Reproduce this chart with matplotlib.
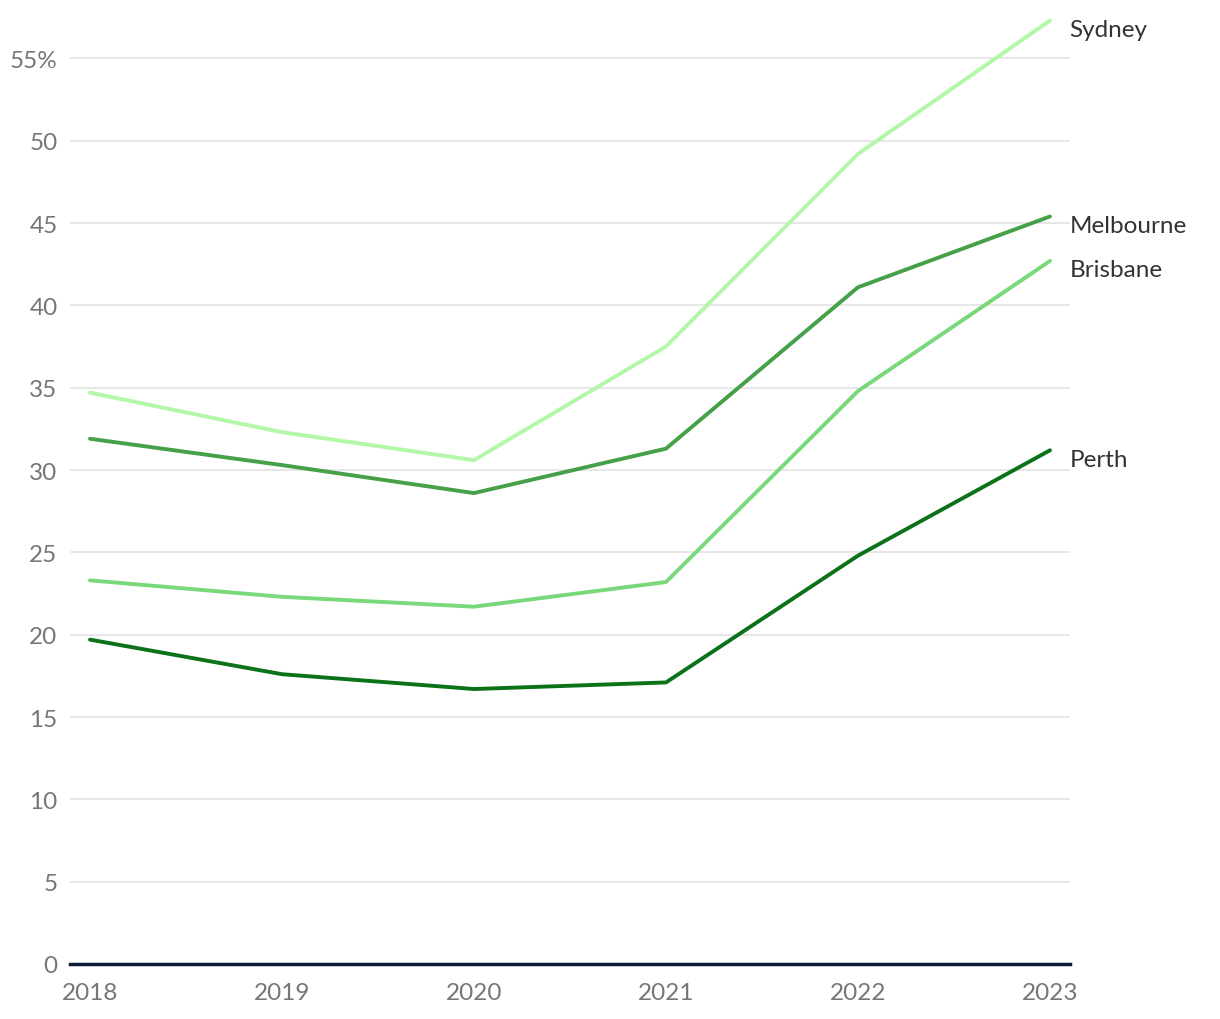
import matplotlib.pyplot as plt

plt.rcParams['font.family'] = ['Lato', 'DejaVu Sans']

years = [2018, 2019, 2020, 2021, 2022, 2023]
cities = ['Sydney', 'Melbourne', 'Brisbane', 'Perth']
sydney = [34.7, 32.3, 30.6, 37.5, 49.2, 57.3]
melbourne = [31.9, 30.3, 28.6, 31.3, 41.1, 45.4]
brisbane = [23.3, 22.3, 21.7, 23.2, 34.8, 42.7]
perth = [19.7, 17.6, 16.7, 17.1, 24.8, 31.2]
colors = ['#b3f7a8', '#45a048', '#79d879', '#0b7219']
yticks = [0, 5, 10, 15, 20, 25, 30, 35, 40, 45, 50, 55]

fig = plt.figure(figsize=(12.2, 10.2), dpi=100)
ax = fig.add_axes([70 / 1220, 55 / 1020, 1000 / 1220, 955 / 1020])

for name, vals, c in zip(cities, [sydney, melbourne, brisbane, perth], colors):
    ax.plot(years, vals, color=c, lw=2.8, solid_capstyle='round', zorder=3)
    # city name just right of the last point, a bit below it
    ax.annotate(name, (years[-1], vals[-1]), xytext=(14, -6.5),
                textcoords='offset points', fontsize=17.5, color='#333333',
                va='center', ha='left', annotation_clip=False)

ax.set_xlim(2018 - 20 / 192, 2023 + 20 / 192)
ax.set_ylim(0, 58)
ax.set_yticks(yticks)
ax.set_yticklabels([str(t) if t != 55 else '55%' for t in yticks])
ax.set_xticks(years)
ax.set_xticklabels([str(y) for y in years])

ax.grid(axis='y', color='#e3e3e3', lw=1.2, zorder=0)
ax.tick_params(axis='both', length=0, labelsize=17.5, labelcolor='#767676')
ax.tick_params(axis='y', pad=9)
ax.tick_params(axis='x', pad=13)
for s in ['top', 'right', 'left']:
    ax.spines[s].set_visible(False)
ax.spines['bottom'].set_color('#0e1a3a')
ax.spines['bottom'].set_linewidth(2.5)
ax.spines['bottom'].set_zorder(4)

fig.savefig('out.png', dpi=100)
